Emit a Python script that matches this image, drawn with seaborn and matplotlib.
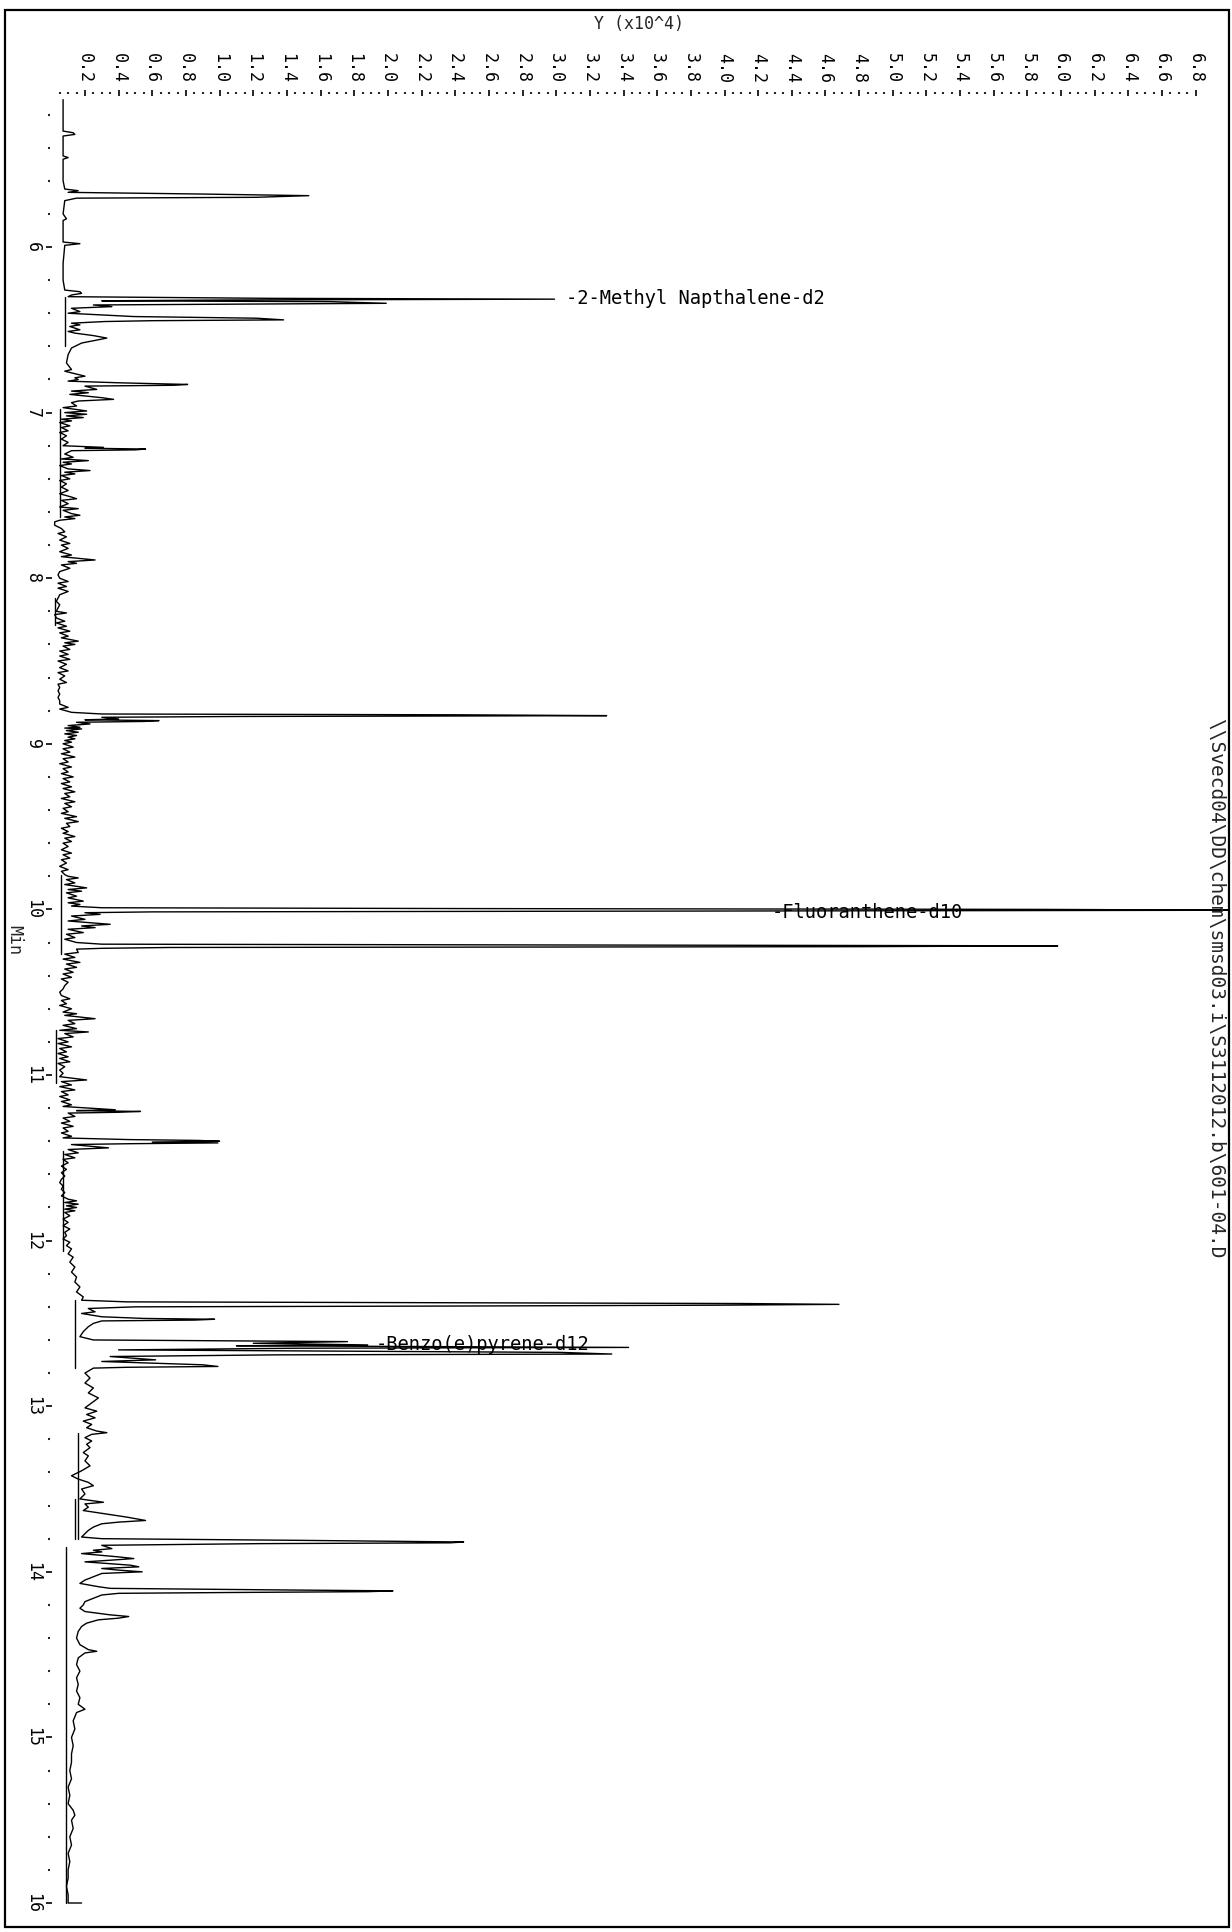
import numpy as np
import pandas as pd
import matplotlib
matplotlib.use("Agg")
import matplotlib.pyplot as plt
from matplotlib.patches import Rectangle
import seaborn as sns

# ---------------- data (time in min, abundance in 1e4) ----------------
seg_early = [(5.11,0.07),(5.30,0.07),(5.31,0.13),(5.32,0.14),(5.33,0.07),(5.45,0.07),(5.46,0.10),
    (5.47,0.07),(5.60,0.07),(5.65,0.08),(5.66,0.16),(5.67,0.10),(5.68,0.88),(5.69,1.53),(5.70,1.21),
    (5.705,0.15),(5.72,0.08),(5.80,0.07),(5.83,0.09),(5.84,0.07),(5.97,0.07),(5.98,0.17),(5.99,0.08),
    (6.10,0.07),(6.20,0.07),(6.26,0.08),(6.27,0.17),(6.28,0.18),(6.29,0.12)]

seg_methyl = [(6.30,0.10),(6.31,1.30),(6.315,2.99),(6.32,1.05),(6.325,0.30),(6.33,1.66),(6.34,1.99),
    (6.345,1.10),(6.35,0.25),(6.36,0.36),(6.37,0.12),(6.39,0.17),(6.40,0.10),(6.42,0.49),(6.43,1.22),
    (6.44,1.38),(6.445,0.60),(6.45,0.32),(6.46,0.12),(6.47,0.17),(6.48,0.11),(6.50,0.17),(6.51,0.10),
    (6.52,0.14),(6.535,0.25),(6.55,0.33),(6.56,0.28),(6.58,0.18),(6.61,0.12),(6.65,0.10),(6.70,0.09),
    (6.74,0.12),(6.75,0.08),(6.78,0.20),(6.79,0.14),(6.80,0.16),(6.81,0.10),(6.82,0.40),(6.83,0.81),
    (6.835,0.73),(6.84,0.20),(6.86,0.27),(6.87,0.12),(6.88,0.22),(6.89,0.11),(6.91,0.30),(6.92,0.37),
    (6.93,0.16),(6.94,0.12),(6.96,0.15),(6.97,0.07),(6.99,0.21),(7.00,0.08)]

seg_mid = [(7.01,0.21),(7.02,0.09),(7.03,0.19),(7.04,0.06),(7.05,0.12),(7.06,0.05),(7.08,0.11),
    (7.09,0.06),(7.11,0.10),(7.12,0.05),(7.14,0.09),(7.16,0.06),(7.18,0.10),(7.20,0.07),(7.21,0.31),
    (7.215,0.20),(7.22,0.56),(7.225,0.50),(7.23,0.12),(7.25,0.08),(7.27,0.13),(7.28,0.06),(7.29,0.22),
    (7.30,0.07),(7.31,0.12),(7.32,0.05),(7.34,0.10),(7.35,0.23),(7.36,0.08),(7.37,0.14),(7.38,0.06),
    (7.40,0.11),(7.41,0.05),(7.43,0.09),(7.45,0.06),(7.47,0.10),(7.49,0.05),(7.51,0.12),(7.52,0.15),
    (7.53,0.06),(7.55,0.10),(7.57,0.05),(7.58,0.16),(7.59,0.07),(7.61,0.12),(7.62,0.17),(7.63,0.08),
    (7.64,0.14),(7.65,0.05),(7.66,0.02),(7.68,0.02),(7.70,0.06),(7.72,0.08),(7.73,0.04),(7.75,0.09),
    (7.77,0.05),(7.79,0.11),(7.80,0.06),(7.82,0.10),(7.84,0.05),(7.86,0.12),(7.87,0.06),(7.89,0.26),
    (7.90,0.10),(7.91,0.15),(7.92,0.06),(7.94,0.11),(7.96,0.05),(7.98,0.04),(8.00,0.05),(8.02,0.10),
    (8.03,0.04),(8.05,0.09),(8.06,0.04),(8.08,0.10),(8.10,0.05),(8.12,0.04),(8.14,0.03),(8.16,0.05),
    (8.18,0.04),(8.20,0.03),(8.21,0.09),(8.22,0.02),(8.24,0.03),(8.26,0.08),(8.27,0.03),(8.29,0.09),
    (8.30,0.04),(8.32,0.11),(8.33,0.05),(8.35,0.10),(8.36,0.06),(8.38,0.16),(8.39,0.08),(8.40,0.14),
    (8.41,0.07),(8.43,0.11),(8.44,0.05),(8.46,0.10),(8.47,0.05),(8.49,0.11),(8.50,0.04),(8.52,0.09),
    (8.54,0.05),(8.56,0.10),(8.57,0.04),(8.59,0.08),(8.61,0.05),(8.63,0.09),(8.64,0.04),(8.66,0.05),
    (8.68,0.04),(8.70,0.05),(8.72,0.04),(8.74,0.05),(8.76,0.05),(8.78,0.10),(8.79,0.05),(8.81,0.12),
    (8.82,0.30),(8.825,2.44),(8.83,3.30),(8.835,1.10),(8.84,0.30),(8.85,0.40),(8.855,0.20),(8.86,0.64),
    (8.865,0.55),(8.87,0.15),(8.88,0.23),(8.89,0.10),(8.90,0.17),(8.905,0.08),(8.91,0.18),(8.92,0.09),
    (8.93,0.16),(8.94,0.08),(8.95,0.15),(8.96,0.10),(8.97,0.14),(8.98,0.08),(8.99,0.12),(9.00,0.07)]

seg_nine = [(9.02,0.13),(9.03,0.07),(9.05,0.11),(9.06,0.06),(9.08,0.14),(9.09,0.07),(9.11,0.10),
    (9.12,0.05),(9.14,0.12),(9.15,0.07),(9.17,0.10),(9.18,0.06),(9.20,0.13),(9.21,0.07),(9.23,0.11),
    (9.24,0.06),(9.26,0.12),(9.27,0.07),(9.29,0.14),(9.30,0.08),(9.32,0.11),(9.33,0.06),(9.35,0.14),
    (9.36,0.08),(9.38,0.12),(9.39,0.07),(9.41,0.10),(9.42,0.06),(9.44,0.15),(9.45,0.08),(9.47,0.16),
    (9.48,0.09),(9.50,0.11),(9.51,0.06),(9.53,0.10),(9.54,0.07),(9.56,0.14),(9.57,0.08),(9.59,0.12),
    (9.60,0.07),(9.62,0.10),(9.64,0.06),(9.66,0.12),(9.67,0.07),(9.69,0.11),(9.70,0.06),(9.72,0.09),
    (9.74,0.05),(9.76,0.10),(9.77,0.06),(9.79,0.08),(9.80,0.10),(9.81,0.16),(9.82,0.09),(9.84,0.14),
    (9.85,0.08),(9.87,0.21),(9.88,0.10),(9.89,0.18),(9.90,0.09),(9.92,0.15),(9.93,0.10),(9.95,0.19),
    (9.96,0.10),(9.97,0.17),(9.98,0.12)]

seg_fluor = [(9.99,0.30),(9.995,2.48),(10.00,5.90),(10.005,7.10),(10.01,3.76),(10.015,0.60),
    (10.02,0.20),(10.03,0.29),(10.04,0.12),(10.06,0.20),(10.07,0.10),(10.09,0.35),(10.10,0.18),
    (10.11,0.26),(10.12,0.10),(10.14,0.19),(10.15,0.09),(10.17,0.14),(10.18,0.08),(10.20,0.15),
    (10.21,0.30),(10.215,3.20),(10.22,5.98),(10.225,4.80),(10.23,0.70),(10.235,0.30),(10.24,0.15),
    (10.26,0.16),(10.27,0.08),(10.29,0.14),(10.30,0.07),(10.32,0.17),(10.33,0.09),(10.35,0.15),
    (10.36,0.08),(10.38,0.13),(10.39,0.07),(10.41,0.12),(10.42,0.06),(10.44,0.10),(10.46,0.08),
    (10.48,0.07),(10.50,0.05),(10.52,0.06),(10.54,0.11),(10.55,0.06),(10.57,0.09),(10.58,0.05),
    (10.60,0.12),(10.62,0.07),(10.63,0.15),(10.64,0.08),(10.66,0.26),(10.67,0.10),(10.69,0.14),
    (10.70,0.07),(10.72,0.15),(10.73,0.05),(10.74,0.22),(10.75,0.08),(10.77,0.13),(10.78,0.04),
    (10.80,0.10),(10.81,0.04),(10.83,0.12),(10.84,0.05),(10.86,0.09),(10.87,0.04),(10.89,0.10),
    (10.90,0.05),(10.92,0.11),(10.93,0.04),(10.95,0.08),(10.97,0.05),(10.99,0.07),(11.01,0.05),
    (11.03,0.21),(11.04,0.06),(11.06,0.12),(11.07,0.05),(11.09,0.14),(11.10,0.06),(11.12,0.10),
    (11.13,0.05),(11.15,0.11),(11.16,0.06),(11.18,0.12),(11.19,0.07),(11.21,0.38),(11.215,0.15),
    (11.22,0.53),(11.225,0.40),(11.23,0.10),(11.25,0.14),(11.26,0.07),(11.28,0.11),(11.29,0.06),
    (11.31,0.13),(11.32,0.07),(11.34,0.10),(11.35,0.06),(11.37,0.12),(11.38,0.07),(11.39,0.46),
    (11.395,0.87),(11.40,1.00),(11.405,0.60),(11.41,0.99),(11.415,0.46),(11.42,0.12),(11.44,0.34),
    (11.45,0.10),(11.47,0.16),(11.48,0.08),(11.50,0.14),(11.51,0.07),(11.53,0.10),(11.55,0.06),
    (11.57,0.09),(11.59,0.06),(11.61,0.08),(11.63,0.06),(11.65,0.05),(11.67,0.07),(11.69,0.06),
    (11.71,0.08),(11.73,0.06),(11.75,0.10),(11.76,0.15),(11.77,0.08),(11.78,0.16),(11.79,0.09),
    (11.80,0.15),(11.81,0.08),(11.82,0.14),(11.83,0.08),(11.85,0.11),(11.87,0.07),(11.89,0.10),
    (11.91,0.07),(11.93,0.11),(11.95,0.08),(11.97,0.09),(11.99,0.07),(12.01,0.11),(12.03,0.09)]

seg_benzo = [(12.05,0.12),(12.08,0.10),(12.10,0.13),(12.13,0.11),(12.16,0.14),(12.19,0.12),
    (12.22,0.15),(12.25,0.14),(12.28,0.17),(12.31,0.15),(12.34,0.19),(12.36,0.18),(12.37,0.45),
    (12.38,4.10),(12.385,4.68),(12.39,3.96),(12.395,2.46),(12.40,0.50),(12.41,0.22),(12.43,0.26),
    (12.44,0.18),(12.46,0.30),(12.47,0.55),(12.475,0.97),(12.48,0.85),(12.485,0.30),(12.50,0.25),
    (12.52,0.22),(12.55,0.19),(12.58,0.17),(12.60,0.25),(12.61,1.76),(12.62,1.20),(12.63,1.88),
    (12.635,1.10),(12.645,3.43),(12.65,1.45),(12.66,0.40),(12.675,3.02),(12.685,3.33),(12.69,1.33),
    (12.70,0.35),(12.72,0.62),(12.73,0.30),(12.75,0.90),(12.76,0.99),(12.765,0.45),(12.77,0.25),
    (12.80,0.20),(12.83,0.23),(12.86,0.20),(12.89,0.25),(12.92,0.22),(12.95,0.28),(12.98,0.24)]

seg_late = [(13.01,0.20),(13.03,0.27),(13.05,0.21),(13.07,0.26),(13.09,0.19),(13.11,0.24),
    (13.13,0.21),(13.15,0.27),(13.16,0.33),(13.17,0.24),(13.19,0.20),(13.21,0.24),(13.23,0.21),
    (13.25,0.23),(13.28,0.19),(13.30,0.22),(13.33,0.20),(13.36,0.23),(13.39,0.18),(13.42,0.12),
    (13.44,0.16),(13.46,0.22),(13.48,0.25),(13.50,0.18),(13.53,0.20),(13.56,0.17),(13.58,0.31),
    (13.59,0.20),(13.61,0.22),(13.63,0.19),(13.67,0.45),(13.69,0.56),(13.70,0.40),(13.71,0.30),
    (13.73,0.25),(13.75,0.22),(13.77,0.20),(13.79,0.18),(13.80,0.30),(13.81,1.47),(13.82,2.45),
    (13.825,2.37),(13.83,1.23),(13.84,0.30),(13.86,0.36),(13.87,0.25),(13.88,0.30),(13.89,0.18),
    (13.91,0.40),(13.92,0.49),(13.93,0.35),(13.94,0.20),(13.96,0.47),(13.97,0.52),(13.98,0.30),
    (13.99,0.40),(14.00,0.54),(14.01,0.30),(14.03,0.25),(14.05,0.20),(14.07,0.17),(14.09,0.28),
    (14.10,0.35),(14.11,1.42),(14.115,2.03),(14.12,1.88),(14.125,1.06),(14.13,0.40),(14.14,0.30),
    (14.16,0.25),(14.18,0.20),(14.20,0.19),(14.22,0.17),(14.24,0.20),(14.26,0.35),(14.27,0.46),
    (14.28,0.40),(14.29,0.28),(14.31,0.21),(14.33,0.18),(14.36,0.16),(14.40,0.15),(14.44,0.17),
    (14.47,0.22),(14.48,0.27),(14.49,0.20),(14.52,0.16),(14.56,0.15),(14.60,0.17),(14.64,0.15),
    (14.68,0.16),(14.72,0.15),(14.76,0.17),(14.80,0.16),(14.83,0.20),(14.85,0.15),(14.90,0.13),
    (14.95,0.14),(15.00,0.12),(15.05,0.13),(15.10,0.12),(15.15,0.12),(15.20,0.11),(15.25,0.12),
    (15.30,0.10),(15.35,0.11),(15.40,0.10),(15.44,0.13),(15.47,0.14),(15.50,0.12),(15.55,0.13),
    (15.60,0.11),(15.65,0.12),(15.70,0.10),(15.75,0.11),(15.80,0.10),(15.85,0.10),(15.90,0.09),
    (15.95,0.10),(16.00,0.10),(16.00,0.18)]

# straight baseline segments: (start time, end time, level)
base_start = [6.30, 6.98, 8.12, 9.79, 10.73, 11.46, 12.36, 13.16, 13.56, 13.85]
base_end   = [6.60, 7.63, 8.28, 10.27, 11.05, 12.06, 12.77, 13.80, 13.80, 16.00]
base_level = [0.08, 0.05, 0.02, 0.06, 0.03, 0.07, 0.14, 0.16, 0.14, 0.09]

annot_text = ["-2-Methyl Napthalene-d2", "-Fluoranthene-d10", "-Benzo(e)pyrene-d12"]
annot_x = [3.06, 4.28, 1.93]
annot_t = [6.31, 10.02, 12.625]

x_major = [round(0.2 * k, 1) for k in range(1, 35)]
x_labels = [f"{v:.1f}" for v in x_major]
y_major = list(range(6, 17))
y_labels = [str(v) for v in y_major]

# ---------------- figure ----------------
sns.set_style("white")
plt.rcParams["font.family"] = ["DejaVu Sans Mono"]
W, H = 1232, 1932
fig = plt.figure(figsize=(W / 100, H / 100), dpi=100)

left_px, right_px, top_px, bot_px = 49, 1229, 93, 1912
ax = fig.add_axes([left_px / W, 1 - bot_px / H, (right_px - left_px) / W, (bot_px - top_px) / H])

trace = seg_early + seg_methyl + seg_mid + seg_nine + seg_fluor + seg_benzo + seg_late
df = pd.DataFrame(trace, columns=["time", "abund"])
sns.lineplot(data=df, x="abund", y="time", sort=False, estimator=None,
             color="black", lw=1.0, ax=ax, zorder=3)

rows = []
for i, (a, b, lv) in enumerate(zip(base_start, base_end, base_level)):
    rows.append((i, a, lv))
    rows.append((i, b, lv))
dfb = pd.DataFrame(rows, columns=["seg", "time", "abund"])
sns.lineplot(data=dfb, x="abund", y="time", units="seg", sort=False, estimator=None,
             color="black", lw=1.0, ax=ax, zorder=3)

# scale: x0 pixel 51.3 at 0, 168.3 px per 1e4 ; time: 247 px at 6 min, 165.6 px/min
ax.set_xlim((left_px - 51.3) / 168.3, (right_px - 51.3) / 168.3)
ax.set_ylim(6 + (bot_px - 247) / 165.6, 6 + (top_px - 247) / 165.6)

for s in ax.spines.values():
    s.set_visible(False)
ax.set_xlabel("")
ax.set_ylabel("")

ax.xaxis.set_ticks_position("top")
ax.set_xticks(x_major)
ax.set_xticklabels(x_labels, rotation=-90, fontsize=12)
ax.set_xticks([v for v in np.arange(0.05, 6.81, 0.05) if abs(v / 0.2 - round(v / 0.2)) > 1e-6], minor=True)
ax.tick_params(axis="x", which="major", direction="inout", length=5, width=1.2, pad=4.5,
               top=True, bottom=False, labeltop=True, labelbottom=False, colors="black")
ax.tick_params(axis="x", which="minor", direction="inout", length=1.3, width=1.5,
               top=True, bottom=False)
for lab in ax.get_xticklabels():
    lab.set_ha("center")
    lab.set_va("bottom")

ax.set_yticks(y_major)
ax.set_yticklabels(y_labels, rotation=-90, fontsize=12)
ax.set_yticks([v for v in np.arange(5.2, 15.9, 0.2) if abs(v - round(v)) > 1e-6], minor=True)
ax.tick_params(axis="y", which="major", direction="inout", length=4, width=1.2, pad=3,
               left=True, right=False, colors="black")
ax.tick_params(axis="y", which="minor", direction="inout", length=1.3, width=1.5, left=True)
for lab in ax.get_yticklabels():
    lab.set_va("center")

for txt, xv, tv in zip(annot_text, annot_x, annot_t):
    ax.text(xv, tv, txt, ha="left", va="center", fontsize=13.5, color="black", zorder=1)

fig.text((left_px + right_px) / 2 / W, 1 - 24 / H, "Y (x10^4)", ha="center", va="center", fontsize=12)
fig.text(14 / W, 1 - 940 / H, "Min", ha="center", va="center", rotation=-90, fontsize=12)
fig.text(1216 / W, 1 - 988 / H, r"\\Svecd04\DD\chem\smsd03.i\S3112012.b\601-04.D",
         ha="center", va="center", rotation=-90, fontsize=14)

fig.patches.append(Rectangle((5 / W, 1 - 1927 / H), (1229 - 5) / W, (1927 - 10) / H,
                             transform=fig.transFigure, fill=False, edgecolor="black", lw=1.6))

fig.savefig("out.png", dpi=100)
